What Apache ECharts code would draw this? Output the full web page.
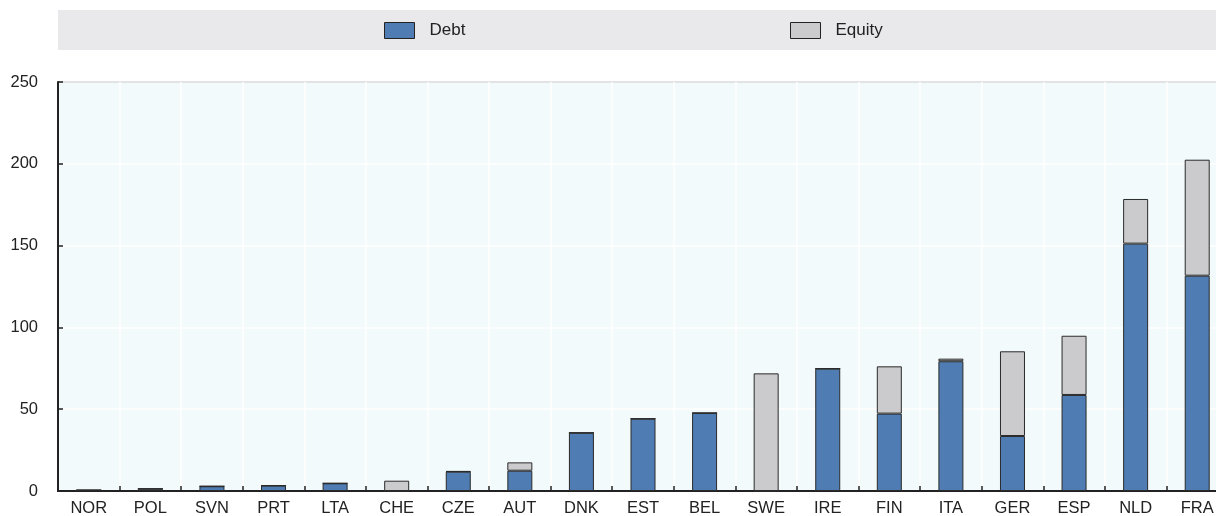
<!DOCTYPE html>
<html><head><meta charset="utf-8">
<script src="https://cdn.jsdelivr.net/npm/echarts@6/dist/echarts.min.js"></script>
<style>html,body{margin:0;padding:0;background:#fff}#c{width:1216px;height:516px}</style>
</head><body><div id="c"></div>
<script>
const categories = ["NOR","POL","SVN","PRT","LTA","CHE","CZE","AUT","DNK","EST","BEL","SWE","IRE","FIN","ITA","GER","ESP","NLD","FRA"];
const debt   = [0.6, 1.4, 2.9, 3.3, 4.7, 0, 11.8, 12.4, 35.6, 44.2, 47.7, 0, 74.8, 47.3, 79.3, 33.6, 58.7, 151.2, 131.6];
const equity = [0, 0, 0, 0, 0, 6.3, 0.3, 5.1, 0, 0, 0, 71.9, 0, 28.9, 1.6, 51.8, 36.2, 27.3, 70.9];
const yTicks = [0, 50, 100, 150, 200, 250];

const chart = echarts.init(document.getElementById('c'), null, {renderer:'canvas'});
const font = '"Liberation Sans", Arial, sans-serif';
chart.setOption({
  animation:false,
  graphic:[{type:'rect', left:58, top:10, shape:{width:1158, height:40}, style:{fill:'#e9e9ec'}, z:-1}],
  legend:[
    {data:['Debt'], icon:'rect', left:384, top:22, padding:0, itemWidth:30, itemHeight:16, itemGap:10,
     itemStyle:{borderColor:'#222', borderWidth:1},
     textStyle:{fontFamily:font, fontSize:17, color:'#222', padding:[0,0,0,10]}},
    {data:['Equity'], icon:'rect', left:790, top:22, padding:0, itemWidth:30, itemHeight:16, itemGap:10,
     itemStyle:{borderColor:'#222', borderWidth:1},
     textStyle:{fontFamily:font, fontSize:17, color:'#222', padding:[0,0,0,10]}}
  ],
  grid:{left:58, top:82, bottom:25, right:-12, outerBoundsMode:'none', containLabel:false,
        show:true, backgroundColor:'#f3fafb', borderColor:'#222', borderWidth:1},
  xAxis:{type:'category', data:categories,
    axisLine:{lineStyle:{color:'#222', width:2}},
    axisTick:{show:true, inside:true, length:5, alignWithLabel:false, lineStyle:{color:'#222', width:1.5}},
    axisLabel:{fontFamily:font, fontSize:16.5, color:'#222', margin:9},
    splitLine:{show:true, lineStyle:{color:'#ffffff', width:1.5}}},
  yAxis:{type:'value', min:yTicks[0], max:yTicks[yTicks.length-1], interval:50,
    axisLine:{show:true, lineStyle:{color:'#222', width:2}},
    axisTick:{show:true, inside:true, length:5, lineStyle:{color:'#222', width:1.5}},
    axisLabel:{fontFamily:font, fontSize:16.5, color:'#222', margin:20},
    splitLine:{show:true, lineStyle:{color:'#ffffff', width:1.5}}},
  series:[
    {name:'Debt', type:'bar', stack:'s', data:debt, barWidth:25,
     itemStyle:{color:'#4f7db3', borderColor:'#2a2a2a', borderWidth:1}},
    {name:'Equity', type:'bar', stack:'s', data:equity, barWidth:25,
     itemStyle:{color:'#cbcbcd', borderColor:'#2a2a2a', borderWidth:1}}
  ]
});
</script></body></html>
